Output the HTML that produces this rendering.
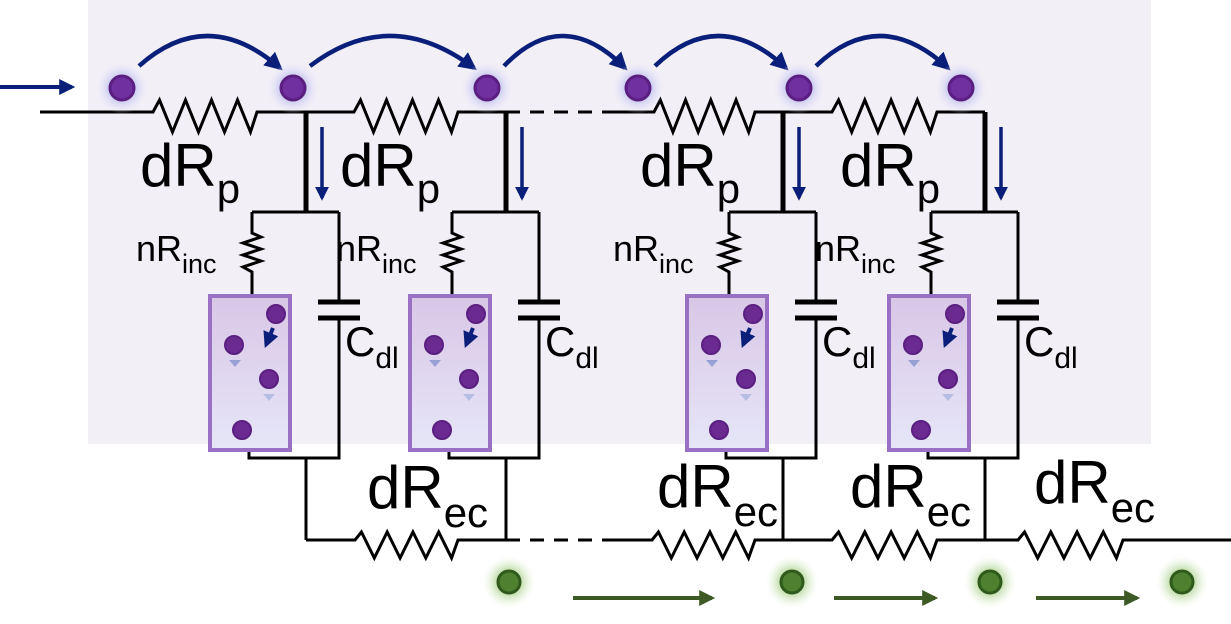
<!DOCTYPE html>
<html><head><meta charset="utf-8"><style>
html,body{margin:0;padding:0;background:#fff;}
svg{display:block;}
text{font-family:"Liberation Sans","DejaVu Sans",sans-serif;fill:#000;}
</style></head><body>
<svg id="s" width="1231" height="624" viewBox="0 0 1231 624" xmlns="http://www.w3.org/2000/svg">
<defs>
<radialGradient id="pg"><stop offset="0.5" stop-color="#c8c8f0" stop-opacity="0.9"/><stop offset="1" stop-color="#e8e8fa" stop-opacity="0"/></radialGradient>
<radialGradient id="gg"><stop offset="0.45" stop-color="#b8d8a0" stop-opacity="0.9"/><stop offset="1" stop-color="#e8f4dc" stop-opacity="0"/></radialGradient>
<linearGradient id="bx" x1="0" y1="0" x2="0" y2="1"><stop offset="0" stop-color="#d9c6e6"/><stop offset="1" stop-color="#e6e6f8"/></linearGradient>
<marker id="ab" viewBox="0 0 10 10" refX="8" refY="5" markerWidth="4" markerHeight="4" orient="auto"><path d="M0,0 L10,5 L0,10 z" fill="#0a1f7a"/></marker>
<marker id="ag" viewBox="0 0 10 10" refX="8" refY="5" markerWidth="4.5" markerHeight="4" orient="auto"><path d="M0,0 L10,5 L0,10 z" fill="#3d5a24"/></marker>
</defs>
<rect x="88" y="0" width="1063" height="444" fill="#f3eff7"/>
<g id="g"></g>
</svg>
<script>
const NS='http://www.w3.org/2000/svg';
const g=document.getElementById('g');
function el(t,a,p){const e=document.createElementNS(NS,t);for(const k in a)e.setAttribute(k,a[k]);(p||g).appendChild(e);return e;}
function zz(x1,x2,y,up,dn){
 let d=` L${x1},${y}`;const w=(x2-x1)/4;
 for(let i=0;i<4;i++){d+=` L${x1+w*i+w*0.25},${y-up} L${x1+w*i+w*0.75},${y+dn}`;}
 d+=` L${x2},${y}`;return d;}
const W={stroke:'#000',fill:'none','stroke-width':3};
let e;
e=el('path',Object.assign({d:`M40,112`+zz(153,257,112,12,20)+` L306,112`+zz(354,458,112,12,20)+` L506,112`},W));

e=el('line',{x1:506,y1:112,x2:615,y2:112,stroke:'#000','stroke-width':3,'stroke-dasharray':'14 10'});

e=el('path',Object.assign({d:`M615,112`+zz(654,755,112,12,20)+` L783,112`+zz(832,937,112,12,20)+` L985,112`},W));

e=el('path',Object.assign({d:`M306,540`+zz(355,458,540,8,18)+` L506,540`},W));

e=el('line',{x1:506,y1:540,x2:612,y2:540,stroke:'#000','stroke-width':3,'stroke-dasharray':'14 10'});

e=el('path',Object.assign({d:`M612,540`+zz(652,755,540,8,18)+` L783,540`+zz(832,937,540,8,18)+` L985,540`+zz(1018,1123,540,8,18)+` L1231,540`},W));

const nodes=[306,506,783,985];
nodes.forEach((n,i)=>{
 const L=n-54,R=n+33,bx=n-96;
 const c=el('g',{});
 el('line',{x1:n,y1:112,x2:n,y2:212,stroke:'#000','stroke-width':5},c);
 el('path',Object.assign({d:`M${L},212 L${R},212 M${L},212 L${L},233 L${L+9},237 L${L-9},243 L${L+9},249 L${L-9},255 L${L+9},261 L${L-9},267 L${L},272 L${L},295 M${R},212 L${R},302 M${R},318 L${R},458 L${L-3},458 L${L-3},450 M${n},458 L${n},540`},W),c);
 el('path',{d:`M${R-21},302 L${R+21},302 M${R-21},318 L${R+21},318`,stroke:'#000','stroke-width':5},c);
 const b=el('g',{},c);
 el('rect',{x:bx,y:296,width:80,height:154,fill:'url(#bx)',stroke:'#9a70c4','stroke-width':4},b);
 [[66,18],[24,49],[59,83],[32,134]].forEach(p=>{el('circle',{cx:bx+p[0],cy:296+p[1],r:9,fill:'#6a2a90',stroke:'#5a1f80','stroke-width':2},b);});
 el('line',{x1:bx+63,y1:328,x2:bx+56,y2:345,stroke:'#0a1f7a','stroke-width':4,'marker-end':'url(#ab)'},b);
 el('path',{d:`M${bx+25},360 l-6,0 l6,7 l6,-7 z`,fill:'#7a8ac8',opacity:0.7},b);
 el('path',{d:`M${bx+59},394 l-6,0 l6,7 l6,-7 z`,fill:'#9aa6d8',opacity:0.6},b);
 el('line',{x1:n+16,y1:127,x2:n+16,y2:198,stroke:'#0a1f7a','stroke-width':3.5,'marker-end':'url(#ab)'},c);
 const t1=el('text',{x:L-116,y:261,'font-size':36},c);t1.textContent='nR';
 const s1=el('tspan',{'font-size':27,dy:12},t1);s1.textContent='inc';
 const t2=el('text',{x:R+6,y:356,'font-size':42},c);t2.textContent='C';
 const s2=el('tspan',{'font-size':30,dy:12},t2);s2.textContent='dl';
});
[140,340,640,840].forEach((x,i)=>{const t=el('text',{x:x,y:186,'font-size':60});t.textContent='dR';const s=el('tspan',{'font-size':42,dy:17},t);s.textContent='p';});
[[367,508],[657,507],[850,507],[1034,503]].forEach((p,i)=>{const t=el('text',{x:p[0],y:p[1],'font-size':60});t.textContent='dR';const s=el('tspan',{'font-size':42,dy:19},t);s.textContent='ec';});
const tops=[122,293,487,638,799,961];
tops.forEach((x,i)=>{
 el('circle',{cx:x,cy:88,r:26,fill:'url(#pg)'});
 const d=el('circle',{cx:x,cy:88,r:12,fill:'#7030a0',stroke:'#5a1f80','stroke-width':3});
 
 if(i<5){const nx=tops[i+1];const a=el('path',{d:`M${x+17},66 Q${(x+nx)/2},5 ${nx-13},68`,fill:'none',stroke:'#0a1f7a','stroke-width':4.5,'marker-end':'url(#ab)'});}
});
e=el('line',{x1:0,y1:87,x2:72,y2:87,stroke:'#0a1f7a','stroke-width':4,'marker-end':'url(#ab)'});

[509,792,990,1182].forEach(x=>{
 el('circle',{cx:x,cy:582,r:26,fill:'url(#gg)'});
 const d=el('circle',{cx:x,cy:582,r:11,fill:'#4e8030',stroke:'#2f5a1c','stroke-width':3});
 
});
[[573,712],[834,935],[1036,1137]].forEach(p=>{const a=el('line',{x1:p[0],y1:598,x2:p[1],y2:598,stroke:'#3d5a24','stroke-width':4,'marker-end':'url(#ag)'});});
</script>
</body></html>
